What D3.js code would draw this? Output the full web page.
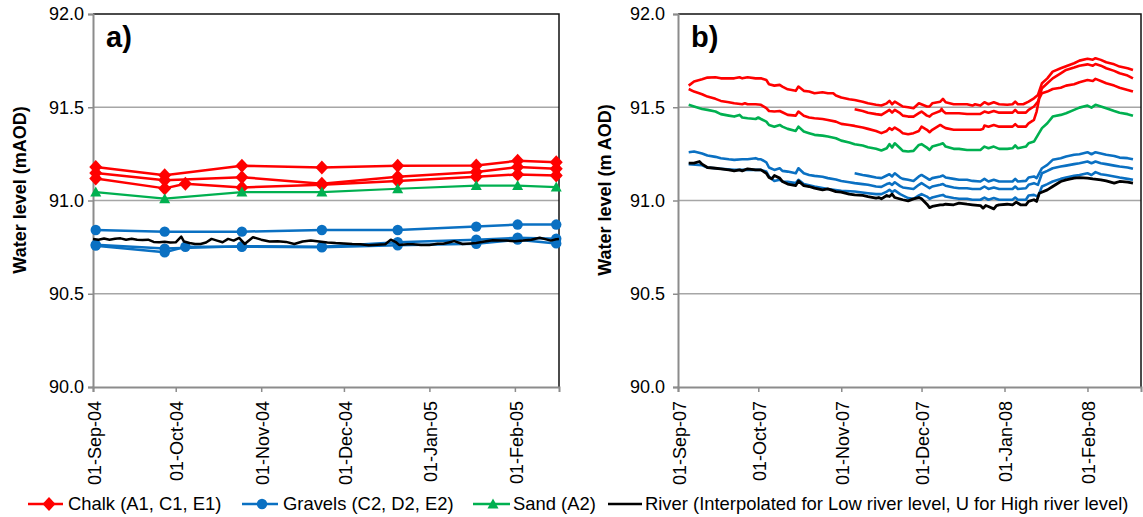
<!DOCTYPE html>
<html>
<head>
<meta charset="utf-8">
<script src="https://cdn.jsdelivr.net/npm/d3@7"></script>
<style>
body{margin:0;background:#fff;}
text{font-family:"Liberation Sans",Arial,sans-serif;}
</style>
</head>
<body>
<svg id="chart" width="1143" height="517"></svg>
<script>
// values are [days since 01-Sep of the survey, water level m AOD]

// a) 2004-05 monthly dips + daily river
const chalkA1 = [[1,91.18],[26,91.135],[54,91.186],[83,91.177],[110.5,91.186],[139,91.188],[154,91.213],[168,91.205]];
const chalkA2 = [[1,91.147],[26,91.108],[54,91.125],[83,91.09],[110.5,91.127],[139,91.153],[154,91.179],[168,91.17]];
const chalkA3 = [[1,91.118],[26,91.065],[33.5,91.09],[54,91.07],[83,91.085],[110.5,91.105],[139,91.127],[154,91.14],[168,91.134]];
const gravelA1 = [[1,90.842],[26,90.833],[54,90.833],[83,90.842],[110.5,90.842],[139,90.86],[154,90.871],[168,90.871]];
const gravelA2 = [[1,90.763],[26,90.742],[54,90.755],[83,90.752],[110.5,90.776],[139,90.79],[154,90.8],[168,90.795]];
const gravelA3 = [[1,90.758],[26,90.722],[33.5,90.752],[54,90.752],[83,90.749],[110.5,90.76],[139,90.768],[154,90.79],[168,90.77]];
const sandA = [[1,91.045],[26,91.01],[54,91.045],[83,91.045],[110.5,91.063],[139,91.08],[154,91.08],[168,91.072]];
const riverA = [[0,90.794],[2,90.79],[4,90.796],[6,90.79],[8,90.795],[10,90.797],[12,90.79],[14,90.795],[16,90.79],[18,90.788],[20,90.79],[22,90.778],[24,90.776],[26,90.779],[28,90.775],[30,90.776],[32,90.806],[33,90.78],[35,90.772],[37,90.767],[39,90.767],[41,90.775],[43,90.794],[45,90.785],[47,90.776],[49,90.794],[51,90.785],[53,90.8],[55,90.767],[58,90.803],[61,90.79],[64,90.78],[67,90.781],[70,90.778],[73,90.767],[76,90.78],[79,90.785],[82,90.78],[85,90.775],[88,90.772],[91,90.77],[94,90.767],[97,90.765],[100,90.76],[103,90.763],[106,90.765],[108,90.79],[110,90.775],[111,90.762],[114,90.766],[116,90.765],[119,90.762],[122,90.762],[125,90.768],[127,90.768],[129,90.775],[131,90.782],[134,90.767],[137,90.77],[139,90.772],[142,90.78],[145,90.787],[148,90.785],[150,90.785],[153,90.782],[156,90.785],[159,90.79],[162,90.8],[164,90.793],[166,90.785],[168,90.792],[169,90.794]];

// b) 2007-08 logger records
const chalkB1 = [[4,91.616],[6,91.638],[9,91.65],[11,91.659],[14,91.661],[16,91.655],[19,91.655],[21,91.655],[23,91.661],[24,91.655],[26,91.661],[29,91.655],[31,91.655],[33,91.646],[34,91.623],[36,91.616],[38,91.62],[39,91.611],[41,91.596],[44,91.588],[45,91.611],[47,91.588],[49,91.584],[51,91.575],[54,91.58],[56,91.575],[58,91.575],[59,91.563],[61,91.552],[64,91.543],[66,91.539],[69,91.53],[71,91.521],[74,91.513],[76,91.509],[78,91.521],[79,91.534],[80,91.516],[81,91.53],[83,91.513],[84,91.504],[86,91.5],[88,91.495],[90,91.521],[93,91.504],[94,91.504],[95,91.521],[98,91.53],[99,91.545],[100,91.527],[103,91.516],[105,91.516],[108,91.516],[110,91.509],[111,91.516],[113,91.509],[114.5,91.527],[116,91.516],[118,91.527],[120,91.516],[123,91.513],[125,91.516],[126,91.53],[127,91.516],[129,91.516],[131,91.53],[133,91.548],[134.5,91.566],[136,91.629],[138,91.655],[140,91.691],[143,91.709],[145,91.72],[148,91.736],[150,91.75],[153,91.76],[155,91.755],[156,91.763],[158,91.754],[160,91.741],[163,91.73],[165,91.718],[168,91.709],[170,91.7]];
const chalkB2 = [[4,91.598],[6,91.584],[9,91.57],[11,91.557],[14,91.545],[16,91.534],[19,91.527],[21,91.521],[24,91.516],[25,91.521],[26,91.516],[29,91.516],[31,91.513],[33,91.495],[34,91.48],[36,91.477],[38,91.48],[39,91.473],[41,91.459],[44,91.455],[45,91.477],[47,91.454],[49,91.445],[51,91.441],[54,91.437],[56,91.432],[59,91.423],[61,91.411],[64,91.405],[66,91.4],[69,91.391],[71,91.384],[74,91.373],[76,91.361],[78,91.373],[79,91.388],[80,91.379],[81,91.391],[83,91.373],[84,91.361],[86,91.355],[88,91.361],[90,91.373],[91,91.396],[93,91.379],[94,91.366],[95,91.379],[98,91.405],[99,91.396],[100,91.388],[103,91.379],[105,91.379],[108,91.379],[110,91.379],[113,91.379],[114,91.384],[114.5,91.402],[116,91.396],[118,91.405],[120,91.396],[123,91.396],[125,91.396],[126,91.409],[127,91.396],[130,91.396],[131,91.414],[133,91.432],[134,91.477],[135,91.548],[136,91.575],[138,91.584],[140,91.598],[143,91.605],[145,91.616],[148,91.623],[150,91.634],[153,91.646],[155,91.641],[156,91.652],[158,91.641],[160,91.629],[163,91.616],[165,91.605],[168,91.593],[170,91.584]];
const chalkB3 = [[66,91.489],[69,91.48],[71,91.471],[74,91.463],[76,91.459],[78,91.477],[79,91.486],[80,91.471],[81,91.486],[83,91.468],[84,91.455],[86,91.45],[88,91.45],[90,91.468],[91,91.477],[93,91.455],[94,91.45],[95,91.463],[98,91.48],[98.5,91.491],[99,91.48],[100,91.468],[103,91.468],[105,91.468],[108,91.464],[110,91.464],[113,91.464],[114.5,91.477],[116,91.471],[118,91.48],[120,91.471],[123,91.471],[125,91.471],[126,91.486],[127,91.471],[130,91.471],[131,91.486],[133,91.504],[134.5,91.53],[136,91.602],[138,91.629],[140,91.655],[143,91.682],[145,91.7],[148,91.713],[150,91.723],[153,91.73],[155,91.723],[156,91.732],[158,91.723],[160,91.709],[163,91.695],[165,91.682],[168,91.67],[170,91.655]];
const gravelB1 = [[4,91.259],[6,91.263],[9,91.252],[11,91.241],[14,91.234],[16,91.227],[19,91.221],[21,91.218],[24,91.221],[26,91.221],[29,91.227],[30,91.221],[31,91.221],[33,91.205],[34,91.177],[36,91.164],[38,91.173],[39,91.159],[41,91.155],[44,91.146],[45,91.173],[47,91.146],[49,91.137],[51,91.132],[54,91.127],[56,91.12],[59,91.113],[61,91.105],[64,91.098],[66,91.093],[69,91.088],[71,91.084],[74,91.075],[76,91.073],[78,91.088],[79,91.093],[80,91.084],[81,91.098],[83,91.077],[84,91.07],[86,91.066],[88,91.062],[90,91.084],[91,91.093],[93,91.075],[94,91.066],[95,91.075],[98,91.084],[99,91.088],[100,91.079],[103,91.07],[105,91.066],[108,91.066],[110,91.062],[113,91.062],[114.5,91.075],[116,91.062],[118,91.07],[120,91.062],[123,91.062],[125,91.062],[126,91.075],[127,91.062],[130,91.066],[131,91.084],[133,91.093],[134.5,91.084],[136,91.146],[138,91.159],[140,91.173],[143,91.182],[145,91.187],[148,91.195],[150,91.2],[153,91.209],[154.5,91.2],[156,91.209],[158,91.2],[160,91.195],[163,91.187],[165,91.182],[168,91.177],[170,91.17]];
const gravelB2 = [[66,91.146],[69,91.137],[71,91.132],[74,91.123],[76,91.12],[78,91.134],[79,91.141],[80,91.129],[81,91.146],[83,91.123],[84,91.116],[86,91.111],[88,91.105],[90,91.129],[91,91.137],[93,91.12],[94,91.111],[95,91.12],[98,91.129],[99,91.134],[100,91.123],[103,91.116],[105,91.111],[108,91.111],[110,91.105],[113,91.102],[114.5,91.116],[116,91.102],[118,91.111],[120,91.102],[123,91.102],[125,91.102],[126,91.116],[127,91.102],[130,91.105],[131,91.123],[133,91.129],[134,91.12],[136,91.173],[138,91.191],[140,91.218],[143,91.227],[145,91.236],[148,91.245],[150,91.248],[153,91.259],[154.5,91.248],[156,91.259],[158,91.252],[160,91.245],[163,91.239],[165,91.23],[168,91.227],[170,91.221]];
const gravelB3 = [[4,91.195],[9,91.189],[11,91.177],[16,91.17],[21,91.164],[26,91.164],[31,91.164],[33,91.155],[34,91.129],[36,91.105],[38,91.111],[39,91.102],[41,91.1],[44,91.093],[45,91.111],[47,91.088],[51,91.075],[56,91.062],[61,91.052],[66,91.048],[71,91.039],[74,91.034],[76,91.034],[78,91.048],[79,91.057],[80,91.045],[81,91.054],[83,91.034],[86,91.013],[88,91.009],[90,91.027],[91,91.034],[93,91.021],[94,91.009],[95,91.016],[98,91.027],[99,91.03],[100,91.021],[103,91.013],[105,91.009],[108,91.009],[110,91.004],[113,91.004],[114.5,91.016],[116,91.004],[118,91.013],[120,91.004],[123,91.004],[125,91.004],[126,91.016],[127,91.004],[130,91.004],[131,91.027],[133,91.03],[134.5,91.021],[136,91.075],[138,91.088],[140,91.102],[143,91.116],[145,91.123],[148,91.132],[150,91.137],[153,91.146],[154.5,91.137],[156,91.152],[158,91.141],[160,91.137],[163,91.129],[165,91.123],[168,91.116],[170,91.111]];
const sandB = [[4,91.513],[6,91.504],[9,91.491],[11,91.486],[14,91.477],[16,91.463],[19,91.455],[21,91.45],[23,91.459],[24,91.445],[26,91.441],[29,91.437],[30,91.445],[31,91.437],[33,91.423],[34,91.405],[36,91.396],[38,91.405],[39,91.396],[41,91.384],[44,91.373],[45,91.396],[47,91.37],[49,91.361],[51,91.352],[54,91.348],[56,91.343],[59,91.334],[61,91.321],[64,91.311],[66,91.302],[69,91.295],[71,91.286],[74,91.277],[76,91.268],[78,91.28],[79,91.302],[80,91.284],[81,91.307],[83,91.28],[84,91.266],[86,91.263],[88,91.266],[90,91.298],[91,91.302],[93,91.284],[94,91.271],[95,91.289],[98,91.302],[99,91.307],[100,91.289],[103,91.277],[105,91.277],[108,91.271],[110,91.271],[113,91.271],[114.5,91.289],[116,91.28],[118,91.289],[120,91.277],[123,91.277],[125,91.28],[126,91.295],[127,91.28],[130,91.289],[131,91.307],[133,91.316],[134.5,91.352],[136,91.388],[138,91.414],[140,91.45],[143,91.459],[145,91.468],[148,91.486],[150,91.498],[153,91.509],[154.5,91.498],[156,91.513],[158,91.504],[160,91.495],[163,91.48],[165,91.471],[168,91.463],[170,91.454]];
const riverB = [[4,91.2],[6,91.2],[8,91.209],[9,91.195],[11,91.177],[14,91.173],[16,91.17],[19,91.164],[21,91.159],[23,91.164],[24,91.159],[26,91.17],[29,91.164],[31,91.164],[33,91.146],[34,91.123],[35,91.116],[36,91.134],[38,91.12],[39,91.102],[41,91.088],[44,91.08],[45,91.105],[47,91.08],[49,91.075],[51,91.066],[54,91.057],[56,91.062],[59,91.048],[61,91.045],[64,91.034],[66,91.03],[69,91.027],[71,91.021],[74,91.013],[75,91.016],[76,91.009],[78,91.027],[79,91.021],[80,91.034],[81,91.016],[84,91.004],[86,90.998],[88,91.009],[90,91.016],[91,91.009],[93,90.98],[94,90.962],[95,90.968],[98,90.977],[99,90.977],[100,90.98],[103,90.977],[105,90.986],[108,90.98],[110,90.977],[113,90.973],[114,90.959],[115,90.973],[116,90.968],[118,90.955],[119,90.973],[120,90.977],[123,90.98],[125,90.977],[126.4,90.991],[128,90.977],[130,90.977],[131,90.995],[133,91.004],[134,90.995],[135,91.039],[138,91.057],[140,91.075],[143,91.102],[145,91.111],[148,91.12],[150,91.123],[153,91.12],[155,91.116],[158,91.111],[160,91.105],[163,91.093],[165,91.102],[168,91.098],[170,91.093]];

const yTicks = [90, 90.5, 91, 91.5, 92];
const monthsA = ["01-Sep-04","01-Oct-04","01-Nov-04","01-Dec-04","01-Jan-05","01-Feb-05"];
const monthsB = ["01-Sep-07","01-Oct-07","01-Nov-07","01-Dec-07","01-Jan-08","01-Feb-08"];
const legendLabels = ["Chalk (A1, C1, E1)", "Gravels (C2, D2, E2)", "Sand (A2)", "River (Interpolated for Low river level, U for High river level)"];

const RED = "#ff0000", BLUE = "#0a70c2", GREEN = "#00b050", BLACK = "#000";
const FONT = "'Liberation Sans', Arial, sans-serif";

const svg = d3.select("#chart");
const parseTick = d3.utcParse("%d-%b-%y");
const fmtTick = d3.utcFormat("%d-%b-%y");
const dayOf = (base, d) => new Date(base.getTime() + d * 864e5);
const y = d3.scaleLinear().domain([90, 92]).range([387, 14]);

function symbolPath(kind) {
    if (kind === "diamond") return "M0,-7L6.5,0L0,7L-6.5,0Z";
    if (kind === "triangle") return "M0,-5.5L5.5,4.5L-5.5,4.5Z";
    return d3.symbol(d3.symbolCircle, 85)();
}

const panels = [
    {months: monthsA, span: 169, x0: 93, x1: 559, yPad: 4, tag: "a)", tagX: 106, title: "Water level (mAOD)", titleX: 20,
     series: [
        {data: chalkA1, color: RED, sym: "diamond", w: 2.5}, {data: chalkA2, color: RED, sym: "diamond", w: 2.5}, {data: chalkA3, color: RED, sym: "diamond", w: 2.5},
        {data: gravelA1, color: BLUE, sym: "circle", w: 2.5}, {data: gravelA2, color: BLUE, sym: "circle", w: 2.5}, {data: gravelA3, color: BLUE, sym: "circle", w: 2.5},
        {data: sandA, color: GREEN, sym: "triangle", w: 2.2},
        {data: riverA, color: BLACK, sym: null, w: 2.5}
     ]},
    {months: monthsB, span: 173, x0: 678, x1: 1141, yPad: 8, tag: "b)", tagX: 691, title: "Water level (m AOD)", titleX: 605,
     series: [
        {data: chalkB1, color: RED, w: 2.6}, {data: chalkB2, color: RED, w: 2.6}, {data: chalkB3, color: RED, w: 2.6},
        {data: sandB, color: GREEN, w: 2.6},
        {data: gravelB1, color: BLUE, w: 2.6}, {data: gravelB2, color: BLUE, w: 2.6}, {data: gravelB3, color: BLUE, w: 2.6},
        {data: riverB, color: BLACK, w: 2.8}
     ]}
];

panels.forEach(p => {
    const base = parseTick(p.months[0]);
    const x = d3.scaleUtc().domain([base, dayOf(base, p.span)]).range([p.x0, p.x1]);
    const g = svg.append("g");

    // gridlines
    g.selectAll("line.grid").data(yTicks.filter(v => v > 90 && v < 92)).join("line")
        .attr("class", "grid")
        .attr("x1", p.x0).attr("x2", p.x1)
        .attr("y1", d => y(d)).attr("y2", d => y(d))
        .attr("stroke", "#a6a6a6").attr("stroke-width", 1.5);

    // top + right frame
    g.append("path")
        .attr("d", `M${p.x0},${y(92)}H${p.x1}V${y(90)}`)
        .attr("fill", "none").attr("stroke", "#111").attr("stroke-width", 1.5);

    // y axis
    const ya = g.append("g").attr("transform", `translate(${p.x0},0)`)
        .call(d3.axisLeft(y).tickValues(yTicks).tickFormat(d3.format(".1f")).tickSizeOuter(0).tickSize(5).tickPadding(p.yPad));
    ya.attr("font-family", FONT).attr("font-size", 18);
    ya.select(".domain").attr("stroke", "#8c8c8c").attr("stroke-width", 2);
    ya.selectAll(".tick line").attr("stroke", "#8c8c8c").attr("stroke-width", 1.5);
    ya.selectAll(".tick text").attr("fill", "#000");

    // x axis
    const xa = g.append("g").attr("transform", `translate(0,${y(90)})`)
        .call(d3.axisBottom(x).tickValues(p.months.map(parseTick)).tickFormat(fmtTick).tickSizeOuter(0).tickSize(5));
    xa.attr("font-family", FONT).attr("font-size", 18);
    xa.select(".domain").attr("stroke", "#8c8c8c").attr("stroke-width", 2);
    xa.selectAll(".tick line").attr("stroke", "#8c8c8c").attr("stroke-width", 1.5);
    xa.selectAll(".tick text")
        .attr("fill", "#000")
        .attr("transform", "rotate(-90)")
        .attr("text-anchor", "end")
        .attr("x", -14).attr("y", 0).attr("dy", "0.4em");

    // series
    const line = d3.line().x(d => x(dayOf(base, d[0]))).y(d => y(d[1]));
    p.series.forEach(s => {
        g.append("path").datum(s.data)
            .attr("d", line)
            .attr("fill", "none").attr("stroke", s.color)
            .attr("stroke-width", s.w).attr("stroke-linejoin", "round");
        if (s.sym) {
            g.selectAll(null).data(s.data).join("path")
                .attr("d", symbolPath(s.sym))
                .attr("transform", d => `translate(${x(dayOf(base, d[0]))},${y(d[1])})`)
                .attr("fill", s.color);
        }
    });

    // panel tag + y title
    g.append("text").attr("x", p.tagX).attr("y", 47)
        .attr("font-size", 29).attr("font-weight", "bold").attr("fill", "#000").text(p.tag);
    g.append("text")
        .attr("transform", `translate(${p.titleX},190) rotate(-90)`)
        .attr("text-anchor", "middle").attr("dy", "0.35em")
        .attr("font-size", 18).attr("font-weight", "bold").attr("fill", "#000").text(p.title);
});

// legend
const legendItems = [
    {color: RED, sym: "diamond", lx: 28, lw: 35, mx: 49, tx: 68},
    {color: BLUE, sym: "circle", lx: 242, lw: 36, mx: 262, tx: 283},
    {color: GREEN, sym: "triangle", lx: 473, lw: 37, mx: 493, tx: 513},
    {color: BLACK, sym: null, lx: 608, lw: 34, mx: 0, tx: 645}
];
const leg = svg.append("g").attr("transform", "translate(0,504)");
legendItems.forEach((it, i) => {
    leg.append("line").attr("x1", it.lx).attr("x2", it.lx + it.lw).attr("y1", 0).attr("y2", 0)
        .attr("stroke", it.color).attr("stroke-width", 2.5);
    if (it.sym) leg.append("path").attr("d", symbolPath(it.sym))
        .attr("transform", `translate(${it.mx},0)`).attr("fill", it.color);
    leg.append("text").attr("x", it.tx).attr("y", 0).attr("dy", "0.35em")
        .attr("font-size", 18.4).attr("fill", "#000").text(legendLabels[i]);
});
</script>
</body>
</html>
